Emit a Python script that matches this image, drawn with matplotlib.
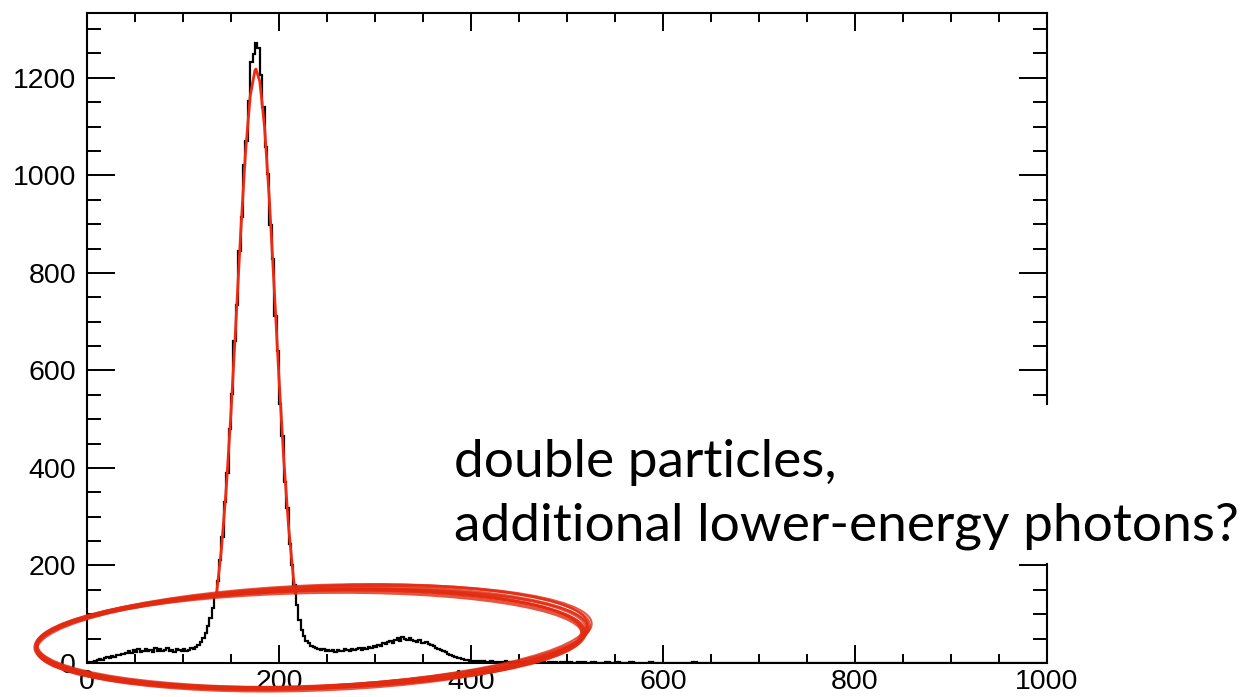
#!/usr/bin/env python3
"""Energy spectrum with Gaussian fit and a hand-drawn annotation."""

import matplotlib

matplotlib.use("Agg")

import matplotlib.pyplot as plt
import numpy as np
from matplotlib.patches import Ellipse, Rectangle
from matplotlib.transforms import IdentityTransform

W_PX, H_PX, DPI = 1250, 697, 100

# histogram, 2.5 wide bins from 0 to 500
LOW_START, LOW_WIDTH = 0.0, 2.5
counts_low = [
    0, 2, 3, 5,
    6, 8, 7, 10, 12, 11, 14, 13, 17, 16, 19, 18,
    21, 24, 20, 26, 23, 28, 22, 25, 29, 24, 27, 23, 30, 25,
    28, 24, 26, 31, 25, 27, 23, 29, 26, 24, 28, 25, 27, 30,
    29, 33, 37, 43, 51, 62, 75, 92, 112, 140,
    168, 212, 258, 330, 389, 480, 552, 660, 735, 845, 915, 1022, 1070, 1152, 1232, 1248,
    1272, 1262, 1205, 1140, 1058, 1002, 898, 828, 712, 640, 532, 465, 372, 318, 245, 202,
    160, 118, 88, 68, 55, 46, 40, 35, 32, 30,
    28, 26, 29, 25, 27, 24, 26, 23, 27, 25, 24, 28,
    26, 25, 29, 27, 28, 30, 27, 31, 29, 32, 30, 34,
    33, 37, 35, 40, 38, 43, 46, 42, 48, 51, 45, 53, 49, 47, 52, 48,
    46, 44, 47, 42, 40, 43, 38, 36,
    34, 31, 29, 27, 24, 22, 19, 17, 15, 13, 11, 10, 8, 7, 6, 5,
    4, 5, 3, 4, 3, 4, 2, 3, 4, 3, 2, 3, 3, 2, 4, 3, 2, 3, 2, 3,
    3, 2, 2, 3, 2, 3, 2, 2, 3, 2, 2, 1, 2, 3, 2, 2, 1, 2, 2, 1,
]

# histogram, 5 wide bins from 500 to 1000
HIGH_START, HIGH_WIDTH = 500.0, 5.0
counts_high = [
    2, 1, 2, 2, 1, 2, 1, 1, 2, 1, 2, 1, 1, 2, 1, 1, 1, 2, 1, 1,
    1, 1, 0, 1, 1, 1, 2, 1, 0, 1, 1, 1, 0, 1, 1, 0, 1, 1, 1, 0,
    1, 0, 1, 1, 0, 1, 0, 1, 1, 0, 0, 1, 0, 1, 0, 0, 1, 0, 1, 0,
    0, 1, 0, 0, 1, 0, 0, 1, 0, 0, 0, 1, 0, 0, 0, 0, 1, 0, 0, 0,
    0, 0, 1, 0, 0, 0, 0, 0, 0, 1, 0, 0, 0, 0, 0, 0, 0, 1, 0, 0,
]

# gaussian fit curve
fit_x = [135, 140, 145, 150, 155, 160, 165, 170, 175, 176, 180, 185, 190, 195, 200, 205, 210, 215, 217]
fit_y = [143, 233, 357, 514, 694, 879, 1044, 1163, 1216, 1218, 1193, 1098, 949, 769, 584, 417, 279, 175, 143]

X_TICKS = [0, 200, 400, 600, 800, 1000]
Y_TICKS = [0, 200, 400, 600, 800, 1000, 1200]

NOTE_LINES = ["double particles,", "additional lower-energy photons?"]

RED_FIT = "#ee2a12"
RED_PEN = "#e22a10"


def px(x, y):
    """top-left pixel coords -> display coords"""
    return x, H_PX - y


def main():
    plt.rcParams["font.family"] = ["Liberation Sans", "DejaVu Sans"]

    fig = plt.figure(figsize=(W_PX / DPI, H_PX / DPI), dpi=DPI)
    fig.patch.set_facecolor("white")
    ax = fig.add_axes([87 / W_PX, 34 / H_PX, 960 / W_PX, 650 / H_PX])

    edges_low = LOW_START + LOW_WIDTH * np.arange(len(counts_low) + 1)
    edges_high = HIGH_START + HIGH_WIDTH * np.arange(len(counts_high) + 1)
    edges = np.concatenate([edges_low, edges_high[1:]])
    counts = np.array(counts_low + counts_high, dtype=float)
    ax.stairs(counts, edges, color="black", lw=1.6, zorder=3)

    ax.plot(fit_x, fit_y, color=RED_FIT, lw=2.0, zorder=4)

    ax.set_xlim(0, 1000)
    ax.set_ylim(0, 1333)
    ax.set_xticks(X_TICKS)
    ax.set_yticks(Y_TICKS)
    ax.set_xticks(np.arange(0, 1001, 50), minor=True)
    ax.set_yticks(np.arange(0, 1334, 50), minor=True)

    for s in ax.spines.values():
        s.set_linewidth(1.5)
    ax.tick_params(which="both", direction="in", top=True, right=True,
                   width=1.4, labelsize=20.5)
    ax.tick_params(axis="y", which="major", length=20, pad=8)
    ax.tick_params(axis="x", which="major", length=13, pad=4)
    ax.tick_params(axis="y", which="minor", length=10)
    ax.tick_params(axis="x", which="minor", length=6.5)

    # hand-drawn ellipse, many overlapping strokes
    strokes = [
        (311, 638, 552, 100, 2.0, 2.6),
        (310, 639, 548, 97, 1.6, 2.2),
        (313, 637, 554, 103, 2.4, 1.8),
        (310, 640, 546, 95, 1.2, 2.4),
        (312, 637, 551, 99, 2.8, 1.6),
        (309, 640, 545, 101, 1.8, 2.0),
        (312, 638, 553, 96, 2.2, 1.8),
        (311, 639, 549, 98, 1.4, 2.2),
        (314, 636, 556, 100, 2.6, 1.4),
    ]
    for cx, cy, w, h, ang, lw in strokes:
        fig.add_artist(Ellipse(px(cx, cy), w, h, angle=ang, fill=False,
                               edgecolor=RED_PEN, lw=lw, alpha=0.8,
                               transform=IdentityTransform(), zorder=6))

    # white note box covering the right part of the frame
    x0, y0 = px(432, 563)
    fig.add_artist(Rectangle((x0, y0), W_PX - 432, 563 - 405, facecolor="white",
                             edgecolor="none", transform=IdentityTransform(), zorder=8))
    for i, line in enumerate(NOTE_LINES):
        tx, ty = px(454, 477 + 64 * i)
        fig.text(tx / W_PX, ty / H_PX, line, family=["Lato", "DejaVu Sans"],
                 fontsize=38.3, ha="left", va="baseline", color="black", zorder=9)

    fig.savefig("out.png", dpi=DPI)
    plt.close(fig)


if __name__ == "__main__":
    main()
